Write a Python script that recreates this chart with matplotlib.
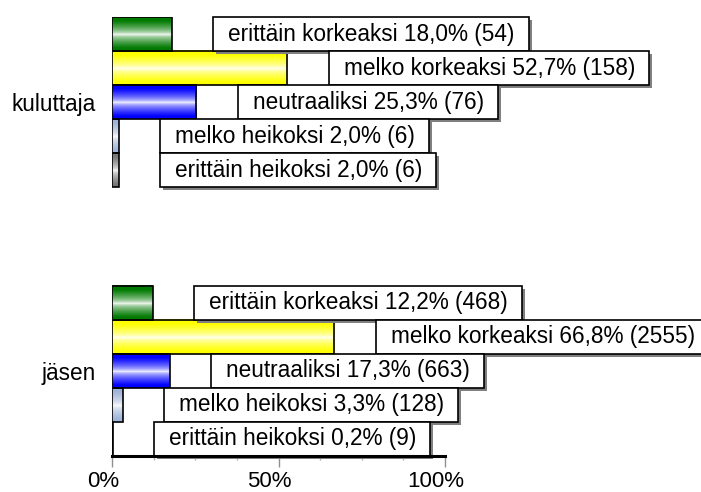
import numpy as np
import matplotlib
matplotlib.use("Agg")
import matplotlib.pyplot as plt
from matplotlib.patches import Rectangle
from matplotlib.colors import to_rgb
from matplotlib.ticker import FixedLocator
from matplotlib.transforms import ScaledTranslation

plt.rcParams["font.family"] = ["Liberation Sans", "DejaVu Sans"]

groups = ["kuluttaja", "jäsen"]
answers = ["erittäin korkeaksi", "melko korkeaksi", "neutraaliksi",
           "melko heikoksi", "erittäin heikoksi"]
kuluttaja_pct = [18.0, 52.7, 25.3, 2.0, 2.0]
kuluttaja_n = [54, 158, 76, 6, 6]
jasen_pct = [12.2, 66.8, 17.3, 3.3, 0.2]
jasen_n = [468, 2555, 663, 128, 9]
bar_colors = ["#007a00", "#ffff00", "#0000ff", "#a0b4d8", "#787878"]

group_offsets = [0.0, 7.89]
label_gap = 12.4  # box starts this far (in %) after the bar end

fig = plt.figure(figsize=(7.01, 4.92), dpi=100)
W, H = 701, 492
ax = fig.add_axes([112 / W, (H - 456) / H, 333 / W, 439 / H])


def gradient(color, n=64):
    # cylinder-like shading: full colour at the edges, white in the middle
    t = np.linspace(-1, 1, n)
    m = np.clip(np.abs(t - 0.05) * 1.25, 0, 1) ** 0.6
    base = np.array(to_rgb(color))
    img = (1 - m)[:, None] * np.ones(3) + m[:, None] * base
    return img[:, None, :]


px_x = 100 / 333  # % per pixel
px_y = 1 / 34.1   # row units per pixel

data = [(kuluttaja_pct, kuluttaja_n), (jasen_pct, jasen_n)]
texts = []
for g, (pcts, ns) in enumerate(data):
    for i, (p, n) in enumerate(zip(pcts, ns)):
        y = group_offsets[g] + i
        ax.imshow(gradient(bar_colors[i]), extent=[0, p, y + 0.5, y - 0.5],
                  aspect="auto", interpolation="bilinear", zorder=1)
        ax.add_patch(Rectangle((0, y - 0.5), p, 1, fill=False, ec="black",
                               lw=1.2, zorder=2))
        label = f"{answers[i]} {p:.1f}% ({n})".replace(".", ",")
        left = p + label_gap
        t = ax.text(left + 15 * px_x, y, label, ha="left", va="center",
                    fontsize=16.3, zorder=6)
        texts.append((t, left, y))

ax.set_xlim(0, 100)
ax.set_ylim(12.39, -0.5)

fig.canvas.draw()
renderer = fig.canvas.get_renderer()
inv = ax.transData.inverted()
for t, left, y in texts:
    bb = t.get_window_extent(renderer)
    right = inv.transform((bb.x1 + 14, 0))[0]
    width = right - left
    ax.add_patch(Rectangle((left + 3 * px_x, y - 0.5 + 3 * px_y), width, 1,
                           fc="#808080", ec="none", zorder=3, clip_on=False))
    ax.add_patch(Rectangle((left, y - 0.5), width, 1, fc="white", ec="black",
                           lw=1.2, zorder=4, clip_on=False))

for s in ["top", "right", "left"]:
    ax.spines[s].set_visible(False)
ax.spines["bottom"].set_linewidth(2.2)
ax.spines["bottom"].set_zorder(5)

ax.set_xticks([0, 50, 100])
ax.set_xticklabels(["0%", "50%", "100%"], fontsize=16)
ax.xaxis.set_minor_locator(FixedLocator(np.arange(0, 101, 12.5)))
ax.tick_params(axis="x", which="major", length=8, width=1, color="#909090",
               pad=2.5)
ax.tick_params(axis="x", which="minor", length=3, width=1, color="#b0b0b0")
shift = ScaledTranslation(-9 / 100, 0, fig.dpi_scale_trans)
for lab in ax.get_xticklabels():
    lab.set_transform(lab.get_transform() + shift)

ax.set_yticks([g + 2 for g in group_offsets])
ax.set_yticklabels(groups, fontsize=16.3)
ax.tick_params(axis="y", length=0, pad=12)

fig.savefig("out.png", dpi=100)
